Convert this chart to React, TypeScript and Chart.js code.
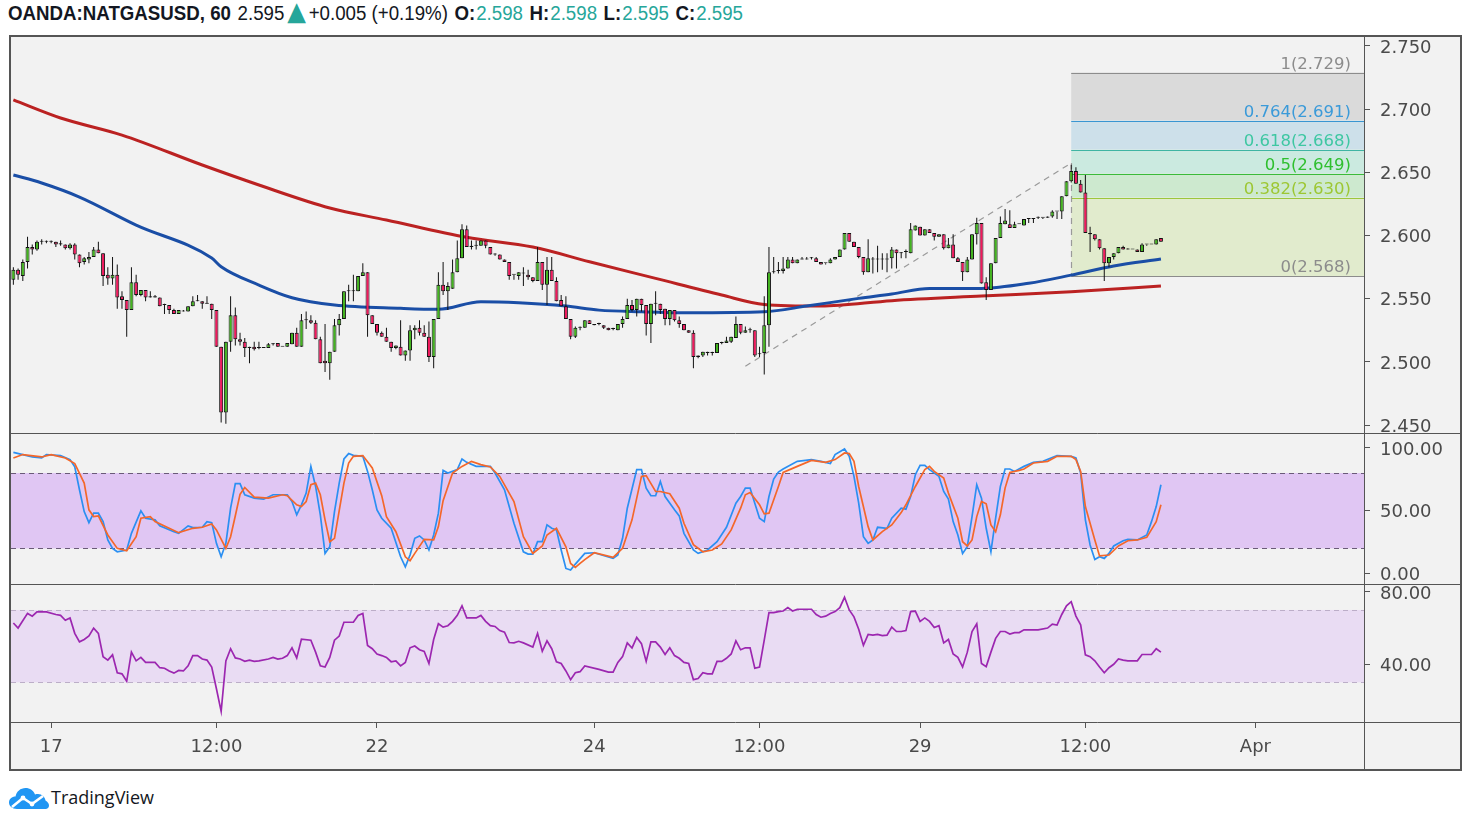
import React, { useEffect, useLayoutEffect, useRef } from 'react';
import { Chart, registerables } from 'chart.js';

Chart.register(...registerables);

// ---------------- DATA ----------------
const opens = [
  2.565, 2.573, 2.568, 2.579, 2.591, 2.589, 2.595, 2.595, 2.595, 2.595,
  2.593, 2.593, 2.590, 2.593, 2.585, 2.579, 2.581, 2.583, 2.589, 2.586,
  2.569, 2.566, 2.569, 2.552, 2.549, 2.541, 2.563, 2.553, 2.557, 2.551,
  2.552, 2.551, 2.545, 2.545, 2.541, 2.538, 2.540, 2.540, 2.544, 2.548,
  2.548, 2.546, 2.546, 2.541, 2.512, 2.460, 2.516, 2.537, 2.518, 2.516,
  2.511, 2.512, 2.511, 2.511, 2.511, 2.514, 2.515, 2.512, 2.512, 2.514,
  2.523, 2.512, 2.533, 2.533, 2.531, 2.518, 2.501, 2.499, 2.508, 2.529,
  2.534, 2.556, 2.556, 2.556, 2.568, 2.571, 2.537, 2.530, 2.523, 2.520,
  2.516, 2.511, 2.512, 2.505, 2.509, 2.525, 2.527, 2.523, 2.520, 2.504,
  2.534, 2.561, 2.556, 2.558, 2.571, 2.582, 2.605, 2.592, 2.592, 2.592,
  2.596, 2.591, 2.585, 2.585, 2.581, 2.579, 2.569, 2.568, 2.570, 2.569,
  2.567, 2.564, 2.579, 2.561, 2.573, 2.564, 2.549, 2.544, 2.534, 2.520,
  2.527, 2.527, 2.533, 2.530, 2.530, 2.529, 2.527, 2.526, 2.525, 2.530,
  2.534, 2.545, 2.541, 2.550, 2.545, 2.530, 2.546, 2.546, 2.542, 2.534,
  2.541, 2.533, 2.530, 2.525, 2.523, 2.504, 2.505, 2.508, 2.507, 2.507,
  2.515, 2.515, 2.516, 2.519, 2.530, 2.523, 2.525, 2.525, 2.506, 2.507,
  2.529, 2.571, 2.572, 2.572, 2.574, 2.581, 2.578, 2.581, 2.581, 2.582,
  2.582, 2.579, 2.578, 2.578, 2.581, 2.583, 2.589, 2.602, 2.595, 2.591,
  2.583, 2.571, 2.581, 2.581, 2.581, 2.581, 2.582, 2.589, 2.586, 2.587,
  2.586, 2.604, 2.607, 2.600, 2.605, 2.602, 2.599, 2.601, 2.590, 2.593,
  2.582, 2.579, 2.571, 2.581, 2.601, 2.610, 2.563, 2.557, 2.578, 2.598,
  2.609, 2.609, 2.606, 2.609, 2.608, 2.613, 2.613, 2.614, 2.614, 2.614,
  2.615, 2.619, 2.619, 2.631, 2.643, 2.651, 2.641, 2.634, 2.602, 2.601,
  2.597, 2.590, 2.578, 2.583, 2.586, 2.591, 2.589, 2.589, 2.589, 2.587,
  2.593, 2.593, 2.593, 2.598,
];
const highs = [
  2.575, 2.574, 2.581, 2.599, 2.593, 2.596, 2.597, 2.596, 2.596, 2.595,
  2.596, 2.593, 2.594, 2.594, 2.585, 2.583, 2.587, 2.591, 2.595, 2.586,
  2.575, 2.583, 2.577, 2.556, 2.549, 2.575, 2.569, 2.557, 2.557, 2.556,
  2.553, 2.551, 2.546, 2.545, 2.542, 2.541, 2.541, 2.544, 2.552, 2.553,
  2.548, 2.552, 2.546, 2.541, 2.512, 2.516, 2.552, 2.543, 2.523, 2.519,
  2.512, 2.516, 2.516, 2.511, 2.515, 2.515, 2.515, 2.512, 2.515, 2.523,
  2.527, 2.538, 2.540, 2.537, 2.533, 2.520, 2.530, 2.508, 2.534, 2.538,
  2.556, 2.561, 2.569, 2.568, 2.578, 2.571, 2.537, 2.530, 2.524, 2.527,
  2.516, 2.513, 2.533, 2.509, 2.529, 2.529, 2.533, 2.529, 2.532, 2.534,
  2.571, 2.579, 2.563, 2.581, 2.596, 2.609, 2.608, 2.596, 2.596, 2.596,
  2.596, 2.591, 2.586, 2.585, 2.581, 2.579, 2.569, 2.571, 2.575, 2.573,
  2.567, 2.591, 2.579, 2.583, 2.583, 2.567, 2.553, 2.552, 2.534, 2.528,
  2.528, 2.533, 2.533, 2.530, 2.531, 2.529, 2.527, 2.527, 2.530, 2.536,
  2.550, 2.549, 2.550, 2.550, 2.545, 2.546, 2.556, 2.546, 2.542, 2.541,
  2.541, 2.536, 2.530, 2.525, 2.525, 2.505, 2.508, 2.508, 2.508, 2.515,
  2.516, 2.520, 2.520, 2.536, 2.530, 2.528, 2.527, 2.525, 2.512, 2.552,
  2.591, 2.583, 2.579, 2.583, 2.583, 2.583, 2.581, 2.583, 2.583, 2.583,
  2.583, 2.579, 2.578, 2.582, 2.583, 2.589, 2.602, 2.602, 2.595, 2.591,
  2.583, 2.597, 2.583, 2.592, 2.586, 2.586, 2.591, 2.589, 2.587, 2.589,
  2.610, 2.608, 2.607, 2.605, 2.605, 2.602, 2.601, 2.601, 2.598, 2.601,
  2.583, 2.579, 2.583, 2.601, 2.614, 2.610, 2.567, 2.578, 2.598, 2.615,
  2.621, 2.620, 2.611, 2.609, 2.613, 2.613, 2.613, 2.615, 2.614, 2.615,
  2.620, 2.619, 2.631, 2.643, 2.656, 2.654, 2.644, 2.648, 2.607, 2.601,
  2.597, 2.590, 2.583, 2.586, 2.591, 2.592, 2.590, 2.589, 2.589, 2.594,
  2.593, 2.593, 2.597, 2.598,
];
const lows = [
  2.561, 2.565, 2.564, 2.574, 2.585, 2.588, 2.593, 2.594, 2.594, 2.591,
  2.592, 2.589, 2.589, 2.581, 2.575, 2.577, 2.578, 2.583, 2.586, 2.560,
  2.561, 2.561, 2.542, 2.542, 2.520, 2.541, 2.552, 2.552, 2.548, 2.551,
  2.551, 2.544, 2.538, 2.538, 2.538, 2.538, 2.540, 2.540, 2.544, 2.548,
  2.542, 2.546, 2.534, 2.512, 2.452, 2.451, 2.508, 2.513, 2.513, 2.504,
  2.499, 2.509, 2.510, 2.511, 2.511, 2.513, 2.512, 2.512, 2.512, 2.514,
  2.512, 2.512, 2.526, 2.530, 2.518, 2.499, 2.492, 2.486, 2.508, 2.521,
  2.534, 2.548, 2.548, 2.556, 2.568, 2.520, 2.530, 2.521, 2.520, 2.516,
  2.508, 2.510, 2.505, 2.501, 2.501, 2.518, 2.521, 2.520, 2.500, 2.495,
  2.534, 2.553, 2.541, 2.558, 2.571, 2.582, 2.591, 2.589, 2.589, 2.592,
  2.590, 2.585, 2.584, 2.581, 2.579, 2.565, 2.565, 2.565, 2.560, 2.565,
  2.563, 2.564, 2.557, 2.545, 2.564, 2.548, 2.544, 2.534, 2.518, 2.519,
  2.525, 2.527, 2.530, 2.529, 2.529, 2.526, 2.525, 2.525, 2.525, 2.527,
  2.534, 2.540, 2.536, 2.540, 2.521, 2.515, 2.537, 2.538, 2.529, 2.529,
  2.532, 2.527, 2.525, 2.523, 2.495, 2.503, 2.504, 2.505, 2.505, 2.507,
  2.514, 2.515, 2.515, 2.519, 2.522, 2.523, 2.523, 2.504, 2.504, 2.490,
  2.512, 2.570, 2.570, 2.570, 2.574, 2.578, 2.578, 2.581, 2.581, 2.581,
  2.579, 2.577, 2.577, 2.578, 2.581, 2.583, 2.589, 2.595, 2.591, 2.582,
  2.569, 2.571, 2.570, 2.571, 2.573, 2.571, 2.574, 2.574, 2.582, 2.582,
  2.586, 2.604, 2.600, 2.600, 2.602, 2.596, 2.599, 2.589, 2.590, 2.582,
  2.579, 2.564, 2.571, 2.581, 2.593, 2.562, 2.549, 2.557, 2.578, 2.598,
  2.609, 2.606, 2.606, 2.609, 2.608, 2.610, 2.610, 2.613, 2.613, 2.614,
  2.614, 2.613, 2.613, 2.631, 2.642, 2.641, 2.634, 2.602, 2.587, 2.596,
  2.589, 2.564, 2.575, 2.581, 2.586, 2.589, 2.589, 2.589, 2.587, 2.587,
  2.592, 2.593, 2.593, 2.595,
];
const closes = [
  2.573, 2.569, 2.579, 2.591, 2.589, 2.595, 2.595, 2.595, 2.595, 2.593,
  2.594, 2.590, 2.593, 2.585, 2.578, 2.582, 2.583, 2.589, 2.586, 2.568,
  2.566, 2.569, 2.551, 2.549, 2.541, 2.563, 2.553, 2.557, 2.551, 2.552,
  2.551, 2.544, 2.545, 2.541, 2.538, 2.541, 2.540, 2.544, 2.548, 2.548,
  2.546, 2.546, 2.541, 2.512, 2.460, 2.516, 2.537, 2.518, 2.516, 2.511,
  2.512, 2.510, 2.511, 2.511, 2.514, 2.514, 2.512, 2.512, 2.515, 2.523,
  2.512, 2.533, 2.533, 2.531, 2.518, 2.499, 2.499, 2.508, 2.529, 2.534,
  2.556, 2.556, 2.556, 2.568, 2.571, 2.537, 2.530, 2.523, 2.520, 2.516,
  2.511, 2.513, 2.505, 2.509, 2.525, 2.527, 2.523, 2.520, 2.504, 2.534,
  2.561, 2.556, 2.560, 2.571, 2.582, 2.605, 2.591, 2.591, 2.592, 2.596,
  2.592, 2.585, 2.585, 2.581, 2.579, 2.568, 2.569, 2.571, 2.570, 2.567,
  2.564, 2.579, 2.561, 2.573, 2.564, 2.548, 2.544, 2.534, 2.520, 2.527,
  2.527, 2.533, 2.530, 2.529, 2.530, 2.527, 2.525, 2.526, 2.530, 2.534,
  2.545, 2.541, 2.550, 2.545, 2.530, 2.546, 2.546, 2.541, 2.534, 2.541,
  2.533, 2.530, 2.525, 2.523, 2.504, 2.505, 2.508, 2.507, 2.507, 2.515,
  2.515, 2.517, 2.520, 2.530, 2.523, 2.525, 2.525, 2.505, 2.506, 2.529,
  2.571, 2.571, 2.572, 2.574, 2.581, 2.578, 2.581, 2.581, 2.581, 2.582,
  2.579, 2.577, 2.578, 2.581, 2.583, 2.589, 2.602, 2.595, 2.591, 2.583,
  2.571, 2.582, 2.581, 2.581, 2.581, 2.581, 2.589, 2.586, 2.586, 2.587,
  2.605, 2.608, 2.600, 2.605, 2.602, 2.599, 2.601, 2.590, 2.593, 2.582,
  2.579, 2.571, 2.581, 2.601, 2.610, 2.562, 2.557, 2.578, 2.598, 2.610,
  2.612, 2.606, 2.609, 2.609, 2.613, 2.613, 2.613, 2.614, 2.614, 2.615,
  2.619, 2.619, 2.631, 2.643, 2.651, 2.641, 2.634, 2.602, 2.601, 2.597,
  2.590, 2.578, 2.583, 2.586, 2.591, 2.589, 2.589, 2.589, 2.587, 2.593,
  2.593, 2.593, 2.597, 2.595,
];

// moving averages read at sample bars: [barIndex, price]
const redMaPoints: [number, number][] = [
  [0, 2.7073], [10, 2.693], [23, 2.6795], [40, 2.6558], [52, 2.640], [67, 2.6218],
  [79, 2.6123], [96, 2.5986], [110, 2.5909], [122, 2.5793], [136, 2.5661], [150, 2.5529],
  [159, 2.5455], [171, 2.5442], [186, 2.5485], [205, 2.5521], [224, 2.5555], [243, 2.560],
];
const blueMaPoints: [number, number][] = [
  [0, 2.6479], [6, 2.6416], [14, 2.6305], [26, 2.6083], [42, 2.5822], [44, 2.5753],
  [52, 2.5608], [59, 2.5508], [68, 2.5450], [82, 2.5424], [90, 2.5416], [99, 2.5476],
  [107, 2.5468], [117, 2.5442], [124, 2.5410], [133, 2.5397], [143, 2.5389], [159, 2.5397],
  [168, 2.5442], [179, 2.5503], [186, 2.5537], [194, 2.5582], [205, 2.5582], [215, 2.5622],
  [224, 2.5687], [233, 2.5759], [243, 2.5814],
];

// stochastic %K (blue) and %D (orange): [barIndex, value]
const stochK: [number, number][] = [
  [0, 96.5], [2, 94.7], [4, 92.8], [6, 92], [7, 94.7], [10, 93.9], [12, 90.7], [13, 85], [14, 66.7],
  [15, 49.3], [16, 40.5], [17, 48], [18, 48], [19, 41.3], [20, 26.7], [21, 20], [22, 17.3], [24, 18.7],
  [25, 32], [27, 49.9], [28, 44], [30, 42.7], [31, 37.9], [34, 33.3], [35, 32], [37, 37.9], [38, 36.5],
  [40, 36.8], [41, 41.3], [42, 40.5], [43, 24], [44, 13.3], [45, 24], [46, 52], [47, 71.5], [48, 71.5],
  [49, 62.7], [51, 60], [53, 59.2], [55, 62.7], [58, 62.7], [59, 57.3], [60, 46.7], [61, 54.7], [62, 64],
  [63, 85.3], [64, 69.3], [65, 46.7], [66, 16], [67, 21.3], [68, 49.3], [69, 72], [70, 91.2], [71, 95.5],
  [72, 94.1], [74, 93.3], [75, 81.3], [76, 66.7], [77, 50.7], [78, 44], [80, 36], [82, 13.3], [83, 5.3],
  [84, 14.7], [85, 28], [86, 29.9], [87, 26.7], [88, 18.7], [89, 30.7], [90, 48], [91, 82.1], [92, 80],
  [94, 82.7], [95, 91.2], [96, 88.5], [98, 85.3], [101, 85.3], [102, 80], [104, 66.7], [106, 40],
  [108, 17.3], [109, 15.5], [110, 15.5], [111, 25.3], [112, 25.3], [113, 38.7], [114, 36], [115, 34.7],
  [116, 18.7], [117, 4], [118, 2.7], [119, 7.5], [121, 16], [123, 16.5], [127, 12], [128, 14.7],
  [129, 28], [130, 52], [132, 82.7], [133, 82.7], [134, 68], [135, 61.9], [136, 61.9], [137, 73.3],
  [138, 61.3], [140, 50.7], [141, 45.9], [142, 32], [144, 18.7], [145, 16], [147, 18.7], [149, 25.3],
  [151, 36.8], [153, 56], [154, 61.3], [155, 68], [156, 68], [157, 56], [158, 44], [159, 41.3],
  [160, 61.3], [161, 75.2], [162, 80.8], [163, 83.2], [166, 89.3], [169, 90.7], [171, 89.3], [173, 87.5],
  [174, 94.7], [176, 99.2], [177, 93.3], [178, 77.3], [179, 56], [180, 29.3], [181, 24], [182, 26.7],
  [183, 36.8], [185, 36], [186, 44], [188, 52], [189, 51.2], [190, 61.3], [191, 78.7], [192, 86.1],
  [193, 86.1], [194, 82.7], [196, 77.3], [197, 65.3], [198, 59.2], [199, 41.3], [200, 30.7], [201, 16],
  [202, 21.3], [203, 45.3], [204, 70.7], [205, 60], [206, 36], [207, 17.3], [208, 44], [209, 69.3],
  [210, 83.2], [211, 83.2], [212, 81.3], [214, 85.3], [216, 88.5], [218, 89.3], [221, 93.9], [224, 93.3],
  [225, 92], [226, 80], [227, 42.7], [228, 22.7], [229, 11.2], [230, 13.3], [231, 12], [232, 16],
  [233, 21.9], [235, 26.1], [236, 27.2], [238, 26.7], [240, 30.7], [241, 41.3], [242, 53.3], [243, 70.7],
];
const stochD: [number, number][] = [
  [0, 92], [2, 94.7], [6, 92.8], [8, 94.7], [11, 92], [13, 87.5], [15, 72], [16, 50.7], [17, 45.3],
  [18, 45.9], [20, 30.7], [22, 20], [24, 18.1], [26, 29.3], [27, 44], [29, 45.3], [30, 41.3], [33, 36],
  [35, 32.5], [38, 36], [40, 36.8], [42, 39.5], [43, 34.7], [45, 20], [46, 29.3], [47, 46], [48, 63],
  [49, 68.5], [51, 60.8], [54, 60], [57, 62.7], [58, 61.9], [60, 54.7], [61, 53.3], [62, 57.3],
  [63, 70.7], [64, 72], [65, 62.7], [66, 42.7], [67, 25.3], [68, 28], [69, 50], [70, 72], [71, 88],
  [72, 93.3], [74, 93.9], [76, 84], [78, 62], [79, 45.3], [81, 33.3], [83, 13.3], [84, 10.1], [85, 16],
  [87, 27.2], [89, 26.7], [90, 37.3], [91, 58], [93, 80], [95, 85.3], [97, 89.3], [99, 86.7],
  [101, 84.8], [103, 77.3], [106, 57.3], [108, 29.3], [110, 16], [112, 21.9], [113, 30.7], [115, 36],
  [117, 21.3], [118, 8], [119, 4.8], [120, 8], [121, 11], [123, 16.5], [127, 12.8], [129, 20],
  [131, 42.7], [133, 77.3], [134, 77.9], [136, 65.3], [137, 65.3], [139, 63.5], [141, 52], [142, 40],
  [144, 23], [146, 17.3], [148, 18.7], [150, 23.5], [152, 34.7], [154, 52], [155, 62.7], [156, 64.5],
  [158, 54.7], [159, 47.5], [160, 48], [162, 69.3], [163, 80.5], [166, 85.3], [169, 90.1], [172, 88.5],
  [174, 90.7], [176, 96], [177, 95.5], [178, 89.3], [179, 69.3], [181, 37.3], [182, 26.7], [184, 33.3],
  [186, 38.7], [188, 48.5], [189, 54.7], [191, 69.3], [193, 82.7], [194, 85.3], [195, 81.3], [197, 76],
  [198, 64], [200, 44], [201, 25.3], [202, 21.9], [203, 26.7], [204, 45.3], [205, 57.3], [206, 55.5],
  [207, 38.7], [208, 33.3], [209, 46.7], [210, 68], [211, 80.5], [213, 82.1], [214, 83.2], [216, 88],
  [219, 89.3], [221, 93.3], [224, 93.3], [225, 90.7], [226, 81.3], [227, 53.3], [229, 26.7], [230, 14],
  [232, 14.7], [234, 21.9], [236, 26.1], [238, 26.7], [240, 28.8], [242, 41.3], [243, 54.7],
];
// RSI: [barIndex, value]
const rsiPoints: [number, number][] = [
  [0, 62.8], [1, 60], [3, 68.1], [4, 66.6], [5, 68.9], [7, 68.9], [9, 67.5], [10, 67], [11, 64.3],
  [12, 65.6], [13, 57.1], [14, 52.4], [15, 53.7], [16, 55.6], [17, 60], [18, 57.1], [19, 44.2],
  [20, 42.3], [21, 45.2], [22, 35.3], [23, 34.7], [24, 30.6], [25, 46.7], [26, 41.9], [27, 43.8],
  [28, 41], [30, 41], [31, 38.1], [32, 37.8], [33, 36.3], [34, 35.1], [35, 36.6], [36, 36.3], [37, 39.1],
  [38, 44.8], [39, 44.8], [40, 42.9], [41, 42.3], [42, 38.5], [43, 26.5], [44, 14], [45, 41.9],
  [46, 48.6], [47, 43.5], [48, 42.9], [49, 41.6], [50, 42.3], [51, 41.6], [52, 41.9], [54, 42.9],
  [55, 43.8], [56, 42.9], [57, 43.3], [58, 44.8], [59, 49.1], [60, 43.5], [61, 53.9], [63, 53.3],
  [64, 46.7], [65, 39.1], [66, 38.5], [67, 43.8], [68, 53.3], [69, 55.6], [70, 63.2], [72, 63.2],
  [73, 67], [74, 68.1], [75, 50.4], [76, 48.6], [77, 45.7], [78, 44.8], [79, 43.8], [80, 41.4],
  [81, 41.9], [82, 39.1], [83, 41], [84, 49.1], [85, 50.1], [86, 48], [87, 47.1], [88, 40.4], [89, 53.7],
  [90, 62.4], [91, 60.5], [92, 61.3], [93, 63.7], [94, 67], [95, 72.3], [96, 65.6], [98, 65.6], [99, 67],
  [100, 63.7], [101, 61.3], [102, 60.9], [103, 58.6], [104, 57.7], [105, 52], [106, 51.8], [107, 52.7],
  [108, 51.8], [110, 49.5], [111, 57.1], [112, 47.2], [113, 52.9], [114, 48.6], [115, 41.4], [116, 40.4],
  [117, 36.3], [118, 31.5], [119, 35.3], [120, 35.9], [121, 39.1], [124, 37.2], [126, 35.7], [127, 35.7],
  [128, 41], [129, 44.2], [130, 51.8], [131, 49], [132, 54.8], [133, 51.4], [134, 41.6], [135, 52.4],
  [136, 52.4], [137, 49.5], [138, 45.4], [139, 49.1], [140, 44.8], [141, 43.3], [142, 41], [143, 40.4],
  [144, 31.5], [145, 32.1], [146, 35.3], [147, 34.7], [148, 34.7], [149, 41.6], [150, 41.6], [151, 43.3],
  [152, 45.7], [153, 52.9], [154, 48], [155, 49.1], [156, 49.1], [157, 37.8], [158, 38.5], [159, 53.3],
  [160, 68.5], [161, 68.5], [162, 69.1], [163, 69.4], [164, 71.3], [165, 69.4], [166, 70.4], [169, 70.4],
  [170, 67.5], [171, 66], [172, 66.6], [173, 68.1], [174, 69.1], [175, 71.3], [176, 77], [177, 70],
  [178, 66.2], [179, 59.4], [180, 50.5], [181, 56.5], [182, 56.1], [183, 56.5], [184, 55.8], [185, 56.1],
  [186, 60.5], [187, 58.1], [188, 58.1], [189, 58.6], [190, 69.1], [191, 69.4], [192, 63.7], [193, 65.6],
  [194, 63.7], [195, 60.3], [196, 61.3], [197, 51.8], [198, 53.7], [199, 45.7], [200, 43.8], [201, 38.5],
  [202, 46.7], [203, 58.1], [204, 62.4], [205, 40.4], [206, 38.7], [207, 46.7], [208, 54.3], [209, 58.1],
  [210, 58.1], [211, 56.7], [212, 57.5], [213, 57.5], [214, 59], [216, 59], [217, 59], [219, 60],
  [220, 62.2], [221, 61.7], [222, 67.5], [223, 72.3], [224, 74.6], [225, 66.6], [226, 61.8], [227, 45.2],
  [228, 44.2], [229, 41.9], [230, 38.5], [231, 35.3], [232, 38.1], [233, 40], [234, 42.9], [235, 42.3],
  [236, 41.9], [238, 41.9], [239, 45.4], [241, 45.4], [242, 48.6], [243, 46.7],
];

const priceTicks = [2.45, 2.5, 2.55, 2.6, 2.65, 2.7, 2.75];
const stochTicks = [0, 50, 100];
const rsiTicks = [40, 80];
const stochBand = [20, 80];
const rsiBand = [30, 70];
const xTickIdx = [8, 43, 77, 123, 158, 192, 227, 263];
const xTickLabels = ['17', '12:00', '22', '24', '12:00', '29', '12:00', 'Apr'];

const fibLevels = [1, 0.764, 0.618, 0.5, 0.382, 0];
const fibPrices = [2.729, 2.691, 2.668, 2.649, 2.630, 2.568];
const fibStartIdx = 224;
const trendStart: [number, number] = [155, 2.4966];
const trendEnd: [number, number] = [224, 2.6574];

// ---------------- STYLE ----------------
const FONT = "'DejaVu Sans', 'Liberation Sans', sans-serif";
const AXIS_TEXT = '#4a4a4a';
const FRAME = '#555555';
const GREEN = '#43b51f';
const RED = '#f2185d';
const TEAL = '#26a69a';
const fibLineColors = ['#8c8c8c', '#3a96d2', '#3fb5a3', '#3bbb3b', '#9cc63c', '#8c8c8c'];
const fibLabelColors = ['#8c8c8c', '#3a9ad9', '#3ec7a2', '#2ebf2e', '#9dc733', '#8c8c8c'];
const fibZoneColors = ['#dadada', '#cde0ea', '#cbeae0', '#cde9cf', '#e1ebcd'];

const toXY = (pts: [number, number][]) => pts.map(([x, y]) => ({ x, y }));

function hline(ctx: CanvasRenderingContext2D, x0: number, x1: number, y: number) {
  const yy = Math.round(y) + 0.5;
  ctx.beginPath();
  ctx.moveTo(x0, yy);
  ctx.lineTo(x1, yy);
  ctx.stroke();
}

const overlayPlugin = {
  id: 'tvOverlay',
  beforeDraw(chart: any) {
    const { ctx, width, height } = chart;
    ctx.save();
    ctx.fillStyle = '#f2f2f2';
    ctx.fillRect(0, 0, width, height);
    ctx.restore();
  },
  beforeDatasetsDraw(chart: any) {
    const { ctx, chartArea } = chart;
    const { x, yP, yS, yR } = chart.scales;
    const L = chartArea.left;
    const R = chartArea.right;
    ctx.save();
    const s80 = yS.getPixelForValue(stochBand[1]);
    const s20 = yS.getPixelForValue(stochBand[0]);
    ctx.fillStyle = '#e0c6f3';
    ctx.fillRect(L, s80, R - L, s20 - s80);
    const r70 = yR.getPixelForValue(rsiBand[1]);
    const r30 = yR.getPixelForValue(rsiBand[0]);
    ctx.fillStyle = '#e9dcf3';
    ctx.fillRect(L, r70, R - L, r30 - r70);
    ctx.lineWidth = 1;
    ctx.setLineDash([5, 4]);
    ctx.strokeStyle = '#6a5a78';
    hline(ctx, L, R, s80);
    hline(ctx, L, R, s20);
    ctx.strokeStyle = '#bcaec8';
    hline(ctx, L, R, r70);
    hline(ctx, L, R, r30);
    ctx.setLineDash([]);
    const fx = x.getPixelForValue(fibStartIdx);
    for (let k = 0; k < fibPrices.length - 1; k++) {
      const t = yP.getPixelForValue(fibPrices[k]);
      const b = yP.getPixelForValue(fibPrices[k + 1]);
      ctx.fillStyle = fibZoneColors[k];
      ctx.fillRect(fx, t, R - fx, b - t);
    }
    for (let k = 0; k < fibPrices.length; k++) {
      ctx.strokeStyle = fibLineColors[k];
      hline(ctx, fx, R, yP.getPixelForValue(fibPrices[k]));
    }
    ctx.setLineDash([6, 5]);
    ctx.strokeStyle = '#9a9a9a';
    ctx.lineWidth = 1.2;
    ctx.beginPath();
    ctx.moveTo(x.getPixelForValue(trendStart[0]), yP.getPixelForValue(trendStart[1]));
    ctx.lineTo(x.getPixelForValue(trendEnd[0]), yP.getPixelForValue(trendEnd[1]));
    ctx.stroke();
    ctx.beginPath();
    ctx.moveTo(Math.round(fx) + 0.5, yP.getPixelForValue(trendEnd[1]));
    ctx.lineTo(Math.round(fx) + 0.5, yP.getPixelForValue(fibPrices[fibPrices.length - 1]));
    ctx.stroke();
    ctx.restore();
  },
  afterDatasetsDraw(chart: any) {
    const { ctx, chartArea } = chart;
    const { yP } = chart.scales;
    ctx.save();
    ctx.font = `16.5px ${FONT}`;
    ctx.textAlign = 'right';
    ctx.textBaseline = 'alphabetic';
    for (let k = 0; k < fibPrices.length; k++) {
      const y = yP.getPixelForValue(fibPrices[k]);
      ctx.fillStyle = fibLabelColors[k];
      ctx.fillText(`${fibLevels[k]}(${fibPrices[k].toFixed(3)})`, chartArea.right - 13, y - 4);
    }
    ctx.restore();
  },
  afterDraw(chart: any) {
    const { ctx, width, height, chartArea } = chart;
    const { x, yP, yS } = chart.scales;
    ctx.save();
    ctx.strokeStyle = FRAME;
    ctx.lineWidth = 1;
    hline(ctx, 0, width, yP.bottom);
    hline(ctx, 0, width, yS.bottom);
    hline(ctx, 0, width, x.top);
    const vx = Math.round(chartArea.right) + 0.5;
    ctx.beginPath();
    ctx.moveTo(vx, 0);
    ctx.lineTo(vx, height);
    ctx.stroke();
    ctx.restore();
  },
};

function yAxis(stackWeight: number, min: number, max: number, ticks: number[], digits: number) {
  return {
    type: 'linear',
    position: 'right',
    stack: 'panes',
    stackWeight,
    min,
    max,
    bounds: 'data',
    offset: false,
    grid: { drawOnChartArea: false, drawTicks: true, tickLength: 6, color: FRAME, lineWidth: 1 },
    border: { display: false },
    ticks: {
      autoSkip: false,
      padding: 10,
      labelOffset: 2,
      color: AXIS_TEXT,
      font: { family: FONT, size: 18 },
      callback: (v: number) => Number(v).toFixed(digits),
    },
    afterBuildTicks: (s: any) => {
      s.ticks = ticks.map((v) => ({ value: v }));
    },
    afterFit: (s: any) => {
      s.width = 96;
      s.paddingTop = 0;
      s.paddingBottom = 0;
    },
  };
}

function buildConfig(): any {
  const idx = closes.map((_, i) => i);
  const up = closes.map((c, i) => c >= opens[i]);
  return {
    type: 'line',
    data: {
      datasets: [
        {
          type: 'bar',
          label: 'body',
          data: idx.map((i) => ({ x: i, y: [opens[i], closes[i]] })),
          xAxisID: 'x',
          yAxisID: 'yP',
          grouped: false,
          barThickness: 4,
          maxBarThickness: 4,
          minBarLength: 1,
          inflateAmount: 0,
          backgroundColor: up.map((u) => (u ? GREEN : RED)),
          borderColor: '#111111',
          borderWidth: 1,
          borderSkipped: false,
        },
        {
          type: 'bar',
          label: 'wick',
          data: idx.map((i) => ({ x: i, y: [lows[i], highs[i]] })),
          xAxisID: 'x',
          yAxisID: 'yP',
          grouped: false,
          barThickness: 1,
          maxBarThickness: 1,
          inflateAmount: 0,
          backgroundColor: '#111111',
          borderWidth: 0,
        },
        {
          type: 'line',
          label: 'MA blue',
          data: toXY(blueMaPoints),
          xAxisID: 'x',
          yAxisID: 'yP',
          borderColor: '#1a4ea6',
          borderWidth: 3,
          pointRadius: 0,
          cubicInterpolationMode: 'monotone',
          fill: false,
        },
        {
          type: 'line',
          label: 'MA red',
          data: toXY(redMaPoints),
          xAxisID: 'x',
          yAxisID: 'yP',
          borderColor: '#bb2222',
          borderWidth: 3,
          pointRadius: 0,
          cubicInterpolationMode: 'monotone',
          fill: false,
        },
        {
          type: 'line',
          label: '%D',
          data: toXY(stochD),
          xAxisID: 'x',
          yAxisID: 'yS',
          borderColor: '#f4672a',
          borderWidth: 1.7,
          pointRadius: 0,
          tension: 0,
          fill: false,
        },
        {
          type: 'line',
          label: '%K',
          data: toXY(stochK),
          xAxisID: 'x',
          yAxisID: 'yS',
          borderColor: '#2b8ff2',
          borderWidth: 1.7,
          pointRadius: 0,
          tension: 0,
          fill: false,
        },
        {
          type: 'line',
          label: 'RSI',
          data: toXY(rsiPoints),
          xAxisID: 'x',
          yAxisID: 'yR',
          borderColor: '#9c27b0',
          borderWidth: 1.7,
          pointRadius: 0,
          tension: 0,
          fill: false,
        },
      ],
    },
    options: {
      responsive: false,
      maintainAspectRatio: false,
      animation: false,
      events: [],
      layout: { padding: 0, autoPadding: false },
      plugins: { legend: { display: false }, tooltip: { enabled: false } },
      scales: {
        x: {
          type: 'linear',
          position: 'bottom',
          min: -0.5,
          max: 286,
          bounds: 'data',
          offset: false,
          grid: { display: true, drawOnChartArea: false, drawTicks: true, tickLength: 6, color: FRAME, offset: false },
          border: { display: false },
          ticks: {
            autoSkip: false,
            maxRotation: 0,
            minRotation: 0,
            padding: 9,
            color: AXIS_TEXT,
            font: { family: FONT, size: 18 },
            callback: (_v: number, i: number) => xTickLabels[i],
          },
          afterBuildTicks: (s: any) => {
            s.ticks = xTickIdx.map((v) => ({ value: v }));
          },
          afterFit: (s: any) => {
            s.height = 47;
            s.paddingLeft = 0;
            s.paddingRight = 0;
          },
        },
        yP: yAxis(396.3, 2.4434, 2.7571, priceTicks, 3),
        yS: yAxis(150, -8.0, 111.5, stochTicks, 2),
        yR: yAxis(138.4, 8.1, 84.6, rsiTicks, 2),
      },
    },
    plugins: [overlayPlugin],
  };
}

function Header() {
  const ref = useRef<HTMLDivElement>(null);
  useLayoutEffect(() => {
    const el = ref.current;
    if (!el) return;
    el.style.transform = 'none';
    const w = el.getBoundingClientRect().width;
    if (w > 0) el.style.transform = `scaleX(${735 / w})`;
  }, []);
  const lbl = { fontWeight: 700, marginLeft: 7 } as React.CSSProperties;
  const val = { color: TEAL, marginLeft: 1 } as React.CSSProperties;
  return (
    <div
      ref={ref}
      style={{
        position: 'absolute',
        left: 8,
        top: 1,
        whiteSpace: 'nowrap',
        transformOrigin: '0 0',
        fontFamily: "'Liberation Sans Narrow', 'Liberation Sans', Arial, sans-serif",
        fontSize: 20,
        lineHeight: '24px',
        color: '#131722',
        display: 'inline-block',
      }}
    >
      <span style={{ fontWeight: 700 }}>OANDA:NATGASUSD, 60</span>
      <span style={{ marginLeft: 7 }}>2.595</span>
      <span style={{ color: TEAL, marginLeft: 3, fontSize: 26, lineHeight: '20px', fontFamily: "'DejaVu Sans', sans-serif" }}>▲</span>
      <span style={{ marginLeft: 3 }}>+0.005 (+0.19%)</span>
      <span style={lbl}>O:</span>
      <span style={val}>2.598</span>
      <span style={lbl}>H:</span>
      <span style={val}>2.598</span>
      <span style={lbl}>L:</span>
      <span style={val}>2.595</span>
      <span style={lbl}>C:</span>
      <span style={val}>2.595</span>
    </div>
  );
}

function Logo() {
  return (
    <>
      <svg
        width={40}
        height={22}
        viewBox="0 0 40 22"
        style={{ position: 'absolute', left: 9, top: 787 }}
      >
        <path
          d="M8 22 C3 22 0 19 0 15.5 C0 12 3 9.5 6.5 9.5 C7.5 4.5 11.5 1 16.5 1 C21 1 24.5 3.5 26 7.5 C27 7 28 7 29 7 C33 7 36 10 36.5 13.5 C38.5 14.5 40 16.5 40 18.5 C40 20.5 38.5 22 36.5 22 Z"
          fill="#2196f3"
        />
        <polyline points="3,20 14,11 23,17 34,9" fill="none" stroke="#ffffff" strokeWidth={2.6} strokeLinejoin="round" />
        <circle cx={14} cy={11} r={2.4} fill="#ffffff" />
        <circle cx={23} cy={17} r={2.4} fill="#ffffff" />
      </svg>
      <div
        style={{
          position: 'absolute',
          left: 51,
          top: 786,
          fontFamily: "'Open Sans', 'Noto Sans', sans-serif",
          fontSize: 18,
          lineHeight: '22px',
          color: '#131722',
          whiteSpace: 'nowrap',
        }}
      >
        TradingView
      </div>
    </>
  );
}

export default function App() {
  const canvasRef = useRef<HTMLCanvasElement>(null);
  useEffect(() => {
    document.body.style.margin = '0';
    const canvas = canvasRef.current;
    if (!canvas) return;
    Chart.defaults.font.family = FONT;
    const chart = new Chart(canvas, buildConfig());
    return () => chart.destroy();
  }, []);
  return (
    <div style={{ position: 'relative', width: 1471, height: 825, background: '#ffffff', overflow: 'hidden' }}>
      <Header />
      <div
        style={{
          position: 'absolute',
          left: 9,
          top: 35,
          width: 1449,
          height: 732,
          border: `2px solid ${FRAME}`,
        }}
      >
        <canvas ref={canvasRef} width={1449} height={732} style={{ display: 'block', width: 1449, height: 732 }} />
      </div>
      <Logo />
    </div>
  );
}
